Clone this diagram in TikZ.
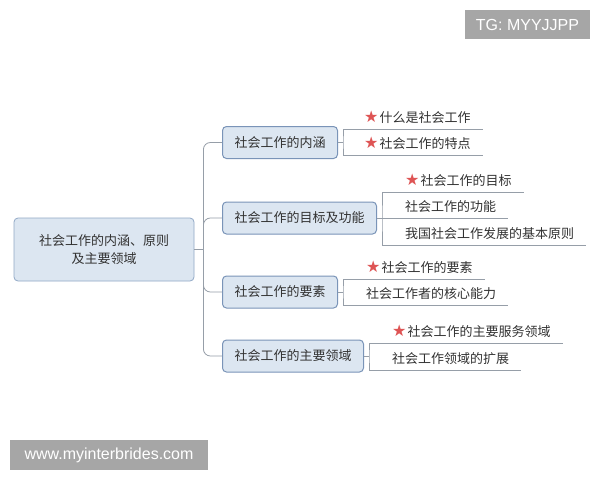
\documentclass[tikz,border=0pt]{standalone}
\usepackage{fontspec}
\setmainfont{Liberation Sans}
\newfontfamily\cjk{Noto Sans CJK SC}
\newfontfamily\symfont{DejaVu Sans}
\usetikzlibrary{positioning,calc}

\definecolor{boxfill}{RGB}{220,230,241}
\definecolor{boxline}{RGB}{122,148,184}
\definecolor{rootline}{RGB}{145,168,198}
\definecolor{linkgray}{RGB}{150,158,168}
\definecolor{txtgray}{RGB}{50,50,50}
\definecolor{starred}{RGB}{222,84,84}
\definecolor{markgray}{RGB}{166,166,166}
\newcommand{\keystar}{{\symfont\fontsize{16}{13}\selectfont\color{starred}★}\hspace{1pt}}

\begin{document}
\begin{tikzpicture}[x=1pt,y=-1pt]
        \tikzstyle{topic}=[draw=boxline, fill=boxfill, rounded corners=4pt, line width=1pt, text=txtgray, font=\cjk\fontsize{13}{18}\selectfont, inner xsep=12pt, minimum height=32pt, anchor=west]
        \tikzstyle{root}=[topic, draw=rootline, line width=0.8pt, minimum width=180pt, minimum height=63pt, align=center, anchor=center]
        \tikzstyle{leaf}=[text=txtgray, font=\cjk\fontsize{13}{16}\selectfont, inner xsep=12pt, inner ysep=5pt, anchor=south west]
        \tikzstyle{link}=[draw=linkgray, line width=0.8pt]
        \tikzstyle{stamp}=[fill=markgray, text=white, font=\fontsize{16}{16}\selectfont, inner sep=0pt]

        \path[use as bounding box, fill=white] (0,0) rectangle (600,480);

        \node[root] (r) at (104,249.5) {社会工作的内涵、原则\\及主要领域};

        \node[topic] (b1) at (222,142.5) {社会工作的内涵};
        \node[topic] (b2) at (222,218) {社会工作的目标及功能};
        \node[topic] (b3) at (222,292) {社会工作的要素};
        \node[topic] (b4) at (222,356) {社会工作的主要领域};

        \draw[link] (r.east) -- ++(9,0) coordinate (t);
        \foreach \b in {b1,b2,b3,b4}
            \draw[link, rounded corners=7pt] (t) |- (\b.west);

        \foreach \b in {1,2,3,4}
            \draw[link] (b\b.east) -- ++(5,0) coordinate (k\b);

        \node[leaf] (l11) at (352,129) {\keystar 什么是社会工作};
        \node[leaf] (l12) at (352,155) {\keystar 社会工作的特点};

        \node[leaf] (l21) at (393,192) {\keystar 社会工作的目标};
        \node[leaf] (l22) at (393,218) {社会工作的功能};
        \node[leaf] (l23) at (393,245) {我国社会工作发展的基本原则};

        \node[leaf] (l31) at (354,279) {\keystar 社会工作的要素};
        \node[leaf] (l32) at (354,305) {社会工作者的核心能力};

        \node[leaf] (l41) at (380,343) {\keystar 社会工作的主要服务领域};
        \node[leaf] (l42) at (380,370) {社会工作领域的扩展};

        \draw[link] (l11.south east) -| (k1) |- (l12.south east);
        \draw[link] (l21.south east) -| (k2) |- (l23.south east);
        \draw[link] (k2) -- (l22.south east);
        \draw[link] (l31.south east) -| (k3) |- (l32.south east);
        \draw[link] (l41.south east) -| (k4) |- (l42.south east);

        \node[stamp, minimum width=125pt, minimum height=29pt] (tg) at (527.5,24.5) {TG: MYYJJPP};
        \node[stamp, minimum width=198pt, minimum height=30pt] (www) at (109,455) {www.myinterbrides.com};
    \end{tikzpicture}
\end{document}
